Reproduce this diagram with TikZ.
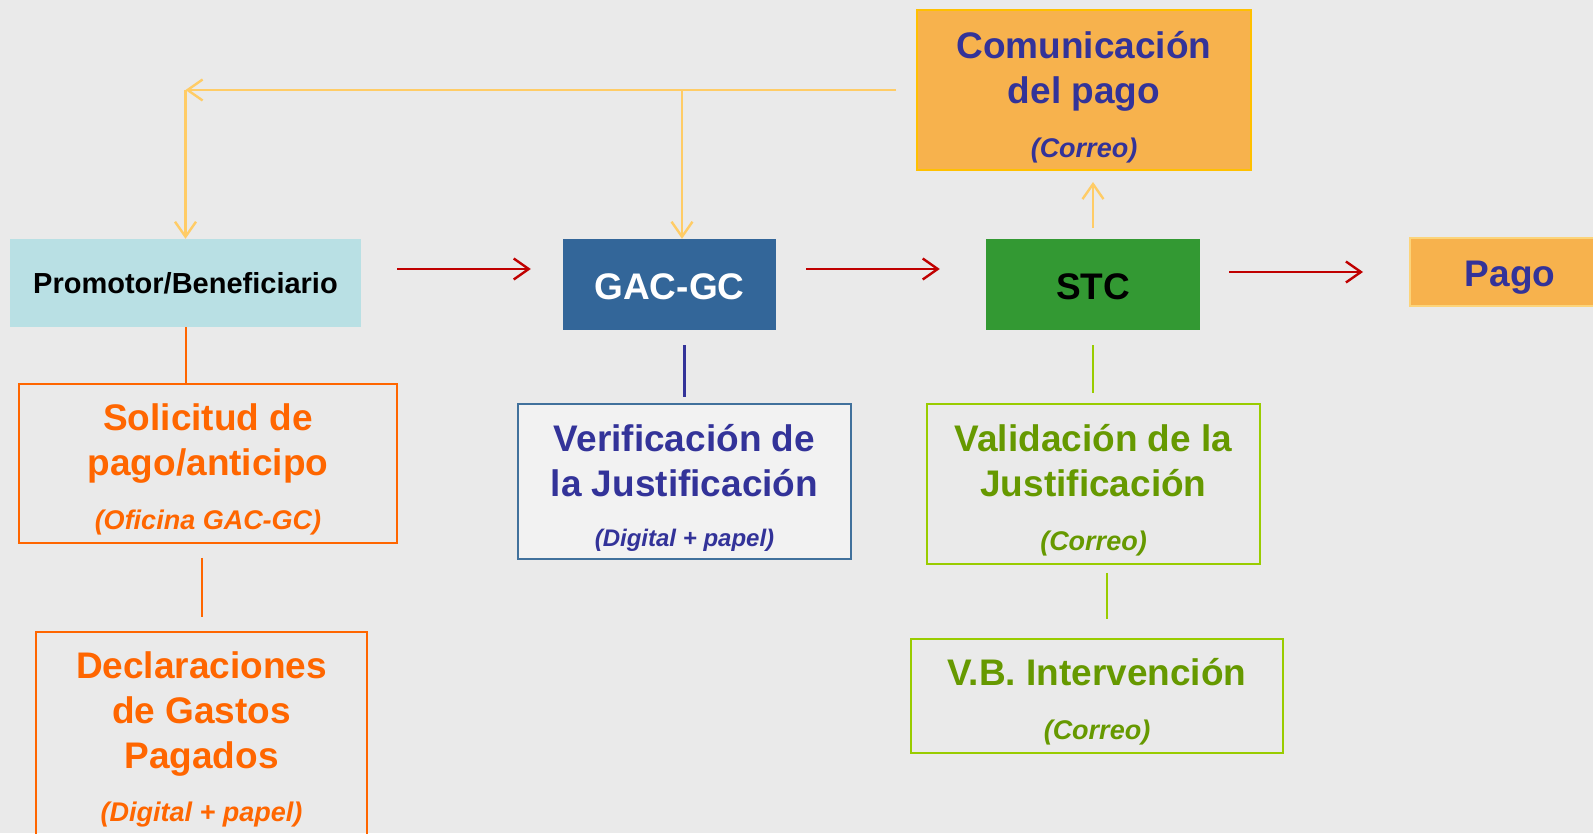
\documentclass[tikz,border=0pt]{standalone}
\usepackage{fontspec}
\setmainfont{Liberation Sans}
\usepackage{xcolor}
\usetikzlibrary{arrows.meta, positioning, calc}
\definecolor{bgGrey}{HTML}{EAEAEA}
\definecolor{promCyan}{HTML}{B9E0E4}
\definecolor{gacBlue}{HTML}{336699}
\definecolor{stcGreen}{HTML}{339933}
\definecolor{pagoOrange}{HTML}{F7B24D}
\definecolor{pagoEdge}{HTML}{FCD47A}
\definecolor{comEdge}{HTML}{FFC000}
\definecolor{textBlue}{HTML}{333399}
\definecolor{solOrange}{HTML}{FF6600}
\definecolor{verEdge}{HTML}{41719C}
\definecolor{valText}{HTML}{669900}
\definecolor{valEdge}{HTML}{99CC00}
\definecolor{flowRed}{HTML}{C00000}
\definecolor{lineYellow}{HTML}{FFCC66}
\tikzset{
    box/.style={rectangle, align=center, inner sep=0pt, font=\bfseries\fontsize{37}{45}\selectfont},
    flow/.style={-{Straight Barb[length=15pt,width=21pt]}, line width=2.4pt, flowRed},
    feedback/.style={-{Straight Barb[length=15pt,width=21pt]}, line width=2.4pt, lineYellow},
    tie/.style={line width=2pt}
}
\newcommand{\note}[1]{{\fontsize{27}{45}\selectfont\itshape #1}}
\newcommand{\toprule}[1]{\rule{0pt}{#1}}

\begin{document}
\begin{tikzpicture}[x=1pt, y=1pt]
    \useasboundingbox (0,0) rectangle (1593,833);
    \clip (0,0) rectangle (1593,833);
    \fill[bgGrey] (0,0) rectangle (1593,833);
    % main row
    \node[box, fill=promCyan, minimum width=351pt, minimum height=88pt,
          font=\bfseries\fontsize{29}{35}\selectfont] (prom) at (185.5,550) {Promotor/Beneficiario};
    \node[box, fill=gacBlue, text=white, minimum width=213pt, minimum height=91pt] (gac) at (669.5,548.5) {\toprule{31pt}GAC-GC};
    \node[box, fill=stcGreen, text=black, minimum width=214pt, minimum height=91pt] (stc) at (1093,548.5) {\toprule{31pt}STC};
    \node[box, fill=pagoOrange, draw=pagoEdge, line width=2pt, text=textBlue,
          minimum width=200pt, minimum height=68pt] (pago) at (1510,561) {\toprule{37pt}Pago};
    \node[box, fill=pagoOrange, draw=comEdge, line width=2pt, text=textBlue,
          minimum width=334pt, minimum height=160pt] (com) at (1084,743) {\toprule{41pt}Comunicación\\del pago\\[9pt]\note{(Correo)}};
    % lower boxes
    \node[box, draw=solOrange, line width=2pt, text=solOrange, minimum width=378pt, minimum height=159pt]
        (sol) at (208,369.5) {\toprule{39pt}Solicitud de\\pago/anticipo\\[9pt]\note{(Oficina GAC-GC)}};
    \node[box, draw=solOrange, line width=2pt, text=solOrange, minimum width=331pt, minimum height=204pt]
        (decl) at (201.5,99) {\toprule{37pt}Declaraciones\\de Gastos\\Pagados\\[8pt]\note{(Digital + papel)}};
    \node[box, fill=bgGrey!60!white, draw=verEdge, line width=2pt, text=textBlue, minimum width=333pt, minimum height=155pt]
        (ver) at (684.5,351.5) {\toprule{40pt}Verificación de\\la Justificación\\[5pt]{\fontsize{24}{45}\selectfont\itshape (Digital + papel)}};
    \node[box, draw=valEdge, line width=2pt, text=valText, minimum width=333pt, minimum height=160pt]
        (val) at (1093.5,349) {\toprule{40pt}Validación de la\\Justificación\\[9pt]\note{(Correo)}};
    \node[box, draw=valEdge, line width=2pt, text=valText, minimum width=372pt, minimum height=114pt]
        (vb) at (1097,137) {\toprule{39pt}V.B. Intervención\\[9pt]\note{(Correo)}};
    % flow arrows
    \draw[flow, shorten <=36pt, shorten >=32pt] ([yshift=14pt]prom.east) -- ([yshift=15.5pt]gac.west);
    \draw[flow, shorten <=30pt, shorten >=46pt] ([yshift=15.5pt]gac.east) -- ([yshift=15.5pt]stc.west);
    \draw[flow, shorten <=29pt, shorten >=46pt] ([yshift=12.5pt]stc.east) -- (pago.west);
    % payment notice
    \coordinate (fork) at ($(gac.north)+(12.5,0)$);
    \draw[feedback] ([xshift=-20pt]com.west) -- (prom.north |- com.west);
    \draw[feedback] (prom.north |- com.west) -- (prom.north);
    \draw[feedback] (fork |- com.west) -- (fork);
    \draw[feedback, shorten <=11pt, shorten >=11pt] (stc.north) -- (stc.north |- com.south);
    % links to the lower boxes
    \coordinate (vbtop) at ($(val.south)+(13.5,0)$);
    \draw[tie, solOrange] (prom.south) -- (prom.south |- sol.north);
    \draw[tie, solOrange, shorten <=14pt, shorten >=14pt] (decl.north |- sol.south) -- (decl.north);
    \draw[line width=3.5pt, textBlue, shorten <=15pt, shorten >=6pt] (ver.north |- gac.south) -- (ver.north);
    \draw[tie, valEdge, shorten <=15pt, shorten >=10pt] (stc.south) -- (stc.south |- val.north);
    \draw[tie, valEdge, shorten <=8pt, shorten >=19pt] (vbtop) -- (vbtop |- vb.north);
\end{tikzpicture}
\end{document}
